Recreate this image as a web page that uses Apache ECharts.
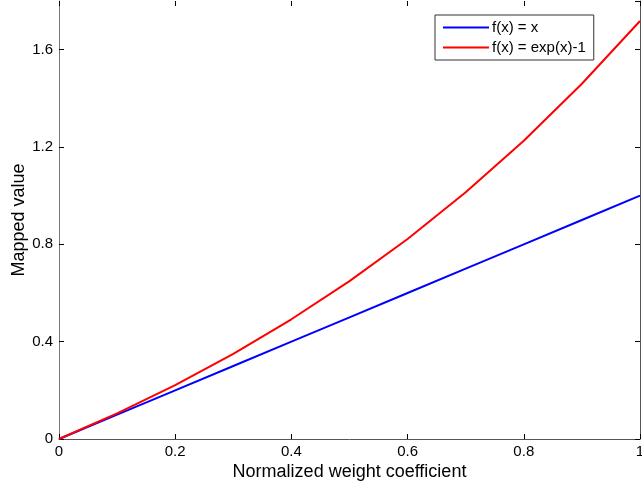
<!DOCTYPE html>
<html>
<head>
<meta charset="utf-8">
<script src="https://cdn.jsdelivr.net/npm/echarts@6/dist/echarts.min.js"></script>
<style>
html, body { margin: 0; padding: 0; background: #fff; }
#container { width: 642px; height: 489px; }
</style>
</head>
<body>
<div id="container"></div>
<script>
// data
var xValues = [0, 0.1, 0.2, 0.3, 0.4, 0.5, 0.6, 0.7, 0.8, 0.9, 1];
var linearValues = [0, 0.1, 0.2, 0.3, 0.4, 0.5, 0.6, 0.7, 0.8, 0.9, 1];
var expValues = [0, 0.105, 0.221, 0.35, 0.492, 0.649, 0.822, 1.014, 1.226, 1.46, 1.718];
var seriesNames = ['f(x) = x', 'f(x) = exp(x)-1'];

var dom = document.getElementById("container");
var myChart = echarts.init(dom);
var font = 'Liberation Sans, Arial, sans-serif';

function pairs(ys) {
    var out = [];
    for (var i = 0; i < xValues.length; i++) {
        out.push([xValues[i], ys[i]]);
    }
    return out;
}

var option = {
    animation: false,
    backgroundColor: '#fff',
    textStyle: { fontFamily: font },
    grid: { left: 59, right: 2, top: 1, bottom: 50, outerBoundsMode: 'none', containLabel: false },
    legend: {
        orient: 'vertical',
        left: 435,
        top: 15,
        padding: [5, 8, 5, 8],
        itemGap: 5,
        itemWidth: 46,
        itemHeight: 2,
        icon: 'rect',
        backgroundColor: '#fff',
        borderColor: '#333',
        borderWidth: 1,
        borderRadius: 0,
        textStyle: { fontFamily: font, fontSize: 15, color: '#000', padding: [0, 0, 0, -2] },
        data: seriesNames
    },
    xAxis: [{
        type: 'value',
        min: 0,
        max: 1,
        interval: 0.2,
        name: 'Normalized weight coefficient',
        nameLocation: 'middle',
        nameGap: 24,
        nameMoveOverlap: false,
        nameTextStyle: { fontFamily: font, fontSize: 18, color: '#000' },
        axisLine: { onZero: false, lineStyle: { color: '#555', width: 1 } },
        axisTick: { inside: true, length: 5, lineStyle: { color: '#000' } },
        axisLabel: { fontFamily: font, fontSize: 15, color: '#000', margin: 5 },
        splitLine: { show: false }
    }, {
        type: 'value',
        position: 'top',
        min: 0,
        max: 1,
        interval: 0.2,
        axisLine: { show: true, onZero: false, lineStyle: { color: 'rgba(0,0,0,0)' } },
        axisTick: { show: true, inside: true, length: 5, lineStyle: { color: '#000' } },
        axisLabel: { show: false },
        splitLine: { show: false }
    }],
    yAxis: [{
        type: 'value',
        min: 0,
        max: 1.8,
        interval: 0.4,
        name: 'Mapped value',
        nameLocation: 'middle',
        nameGap: 31,
        nameMoveOverlap: false,
        nameTextStyle: { fontFamily: font, fontSize: 18, color: '#000' },
        axisLine: { show: true, onZero: false, lineStyle: { color: '#777', width: 1 } },
        axisTick: { inside: true, length: 5, lineStyle: { color: '#000' } },
        axisLabel: { fontFamily: font, fontSize: 15, color: '#000', margin: 6, showMaxLabel: false },
        splitLine: { show: false }
    }, {
        type: 'value',
        position: 'right',
        min: 0,
        max: 1.8,
        interval: 0.4,
        axisLine: { show: true, onZero: false, lineStyle: { color: '#555', width: 1 } },
        axisTick: { inside: true, length: 5, lineStyle: { color: '#000' } },
        axisLabel: { show: false },
        splitLine: { show: false }
    }],
    series: [
        {
            name: seriesNames[0],
            type: 'line',
            showSymbol: false,
            color: '#0000ff',
            lineStyle: { color: '#0000ff', width: 2 },
            data: pairs(linearValues)
        },
        {
            name: seriesNames[1],
            type: 'line',
            showSymbol: false,
            color: '#ff0000',
            lineStyle: { color: '#ff0000', width: 2 },
            data: pairs(expValues)
        }
    ]
};
if (option && typeof option === "object") {
    myChart.setOption(option, true);
}
</script>
</body>
</html>
